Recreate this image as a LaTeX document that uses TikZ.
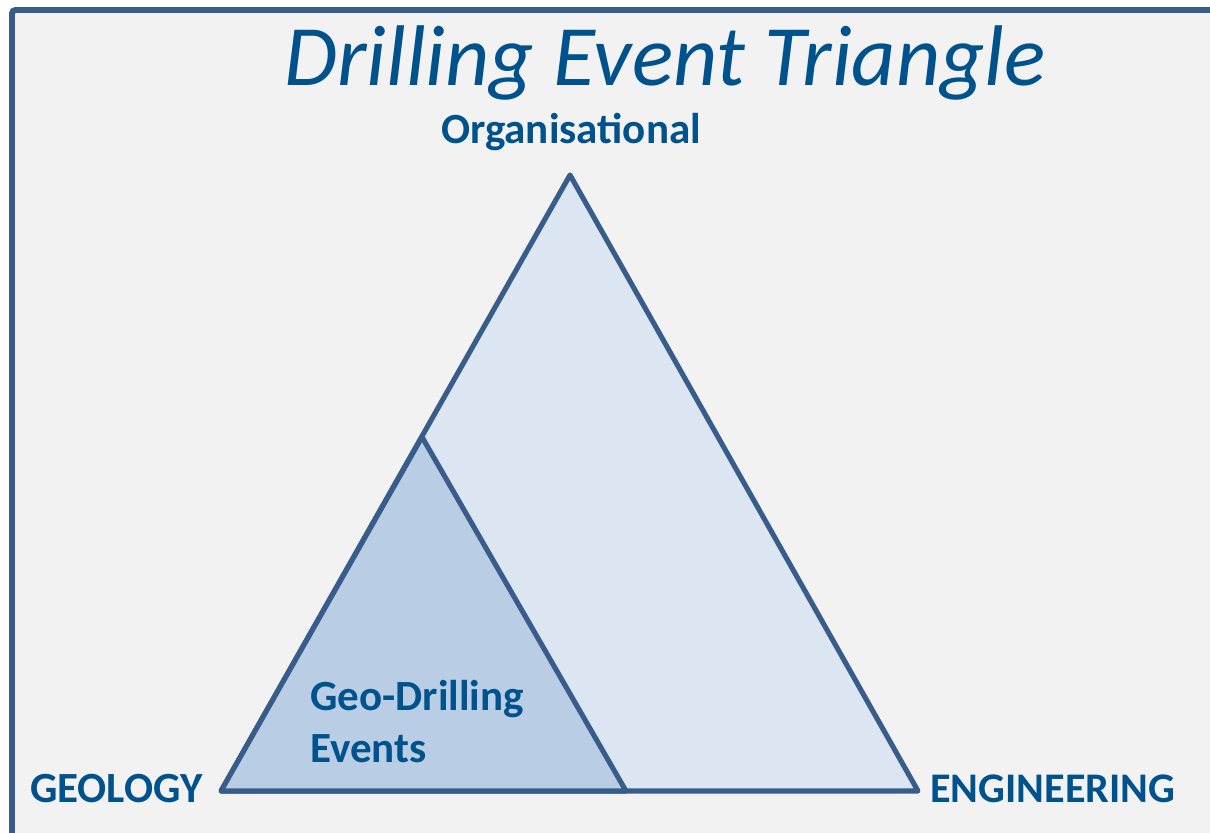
\documentclass[tikz,border=0pt]{standalone}
\usepackage{fontspec}
\setmainfont{Carlito}
\definecolor{edgeblue}{RGB}{56, 93, 138}
\definecolor{textblue}{RGB}{0, 82, 140}
\definecolor{paleblue}{RGB}{220, 230, 242}
\definecolor{midblue}{RGB}{185, 205, 229}
\definecolor{panelgray}{RGB}{242, 242, 242}
\usetikzlibrary{positioning}

\begin{document}
\begin{tikzpicture}[x=0.02cm, y=-0.02cm,
  corner/.style={font=\fontsize{24.5}{29.5}\selectfont\bfseries, text=textblue, inner sep=0pt},
  tri/.style={draw=edgeblue, line width=2.9pt, line join=round}]
  \useasboundingbox (0,0) rectangle (1210,832);
  \fill[white] (0,0) rectangle (1210,832);

  % Panel
  \draw[edgeblue, fill=panelgray, line width=3.4pt, rounded corners=2pt] (12,10) rectangle (1240,860);

  % Title
  \node[font=\fontsize{49}{55}\selectfont\itshape, text=textblue, anchor=base] (title) at (665,85) {Drilling Event Triangle};

  % Corners of the big triangle
  \coordinate (top) at (570,175);
  \coordinate (left) at (221,791);
  \coordinate (right) at (918,791);
  \coordinate (mid) at (422,437);
  \coordinate (base) at (626,791);

  % Triangles
  \filldraw[tri, fill=paleblue] (left) -- (top) -- (right) -- cycle;
  \filldraw[tri, fill=midblue] (left) -- (mid) -- (base) -- cycle;

  % Labels
  \node[corner, anchor=base] (org) at (571,143) {Organisational};
  \node[corner, anchor=base east] (geo) at (203,802) {GEOLOGY};
  \node[corner, anchor=base west, font=\fontsize{24}{29}\selectfont\bfseries] (eng) at (930,802) {ENGINEERING};
  \node[corner, anchor=base west, align=left] (events) at (310,762) {Geo-Drilling\\Events};
\end{tikzpicture}
\end{document}
